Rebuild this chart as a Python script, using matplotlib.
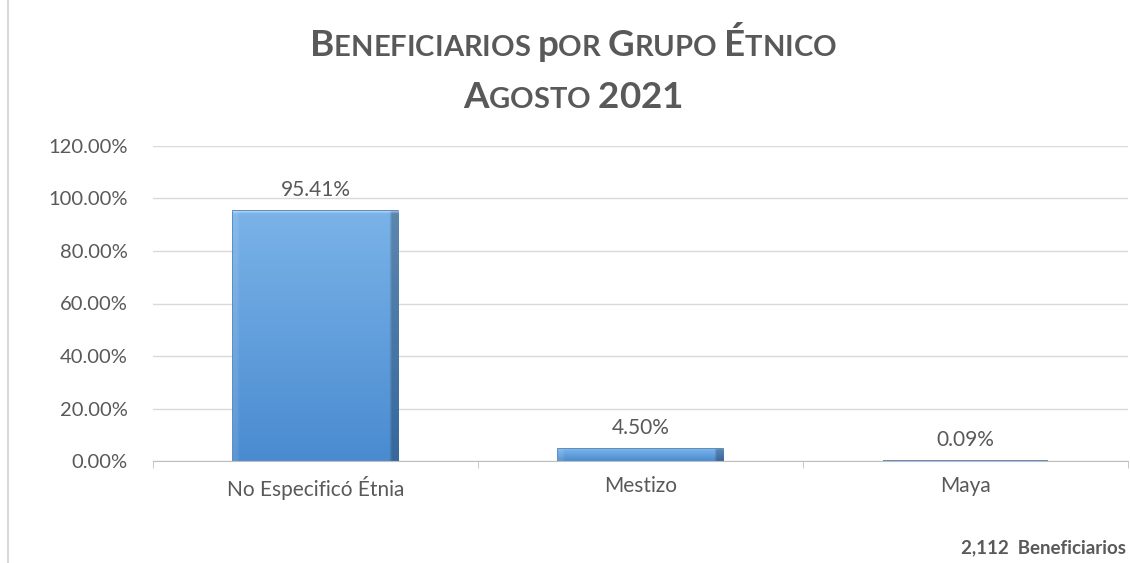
import numpy as np
import matplotlib
matplotlib.use("Agg")
import matplotlib.pyplot as plt
from matplotlib.offsetbox import TextArea, HPacker, AnchoredOffsetbox
from matplotlib.lines import Line2D
from matplotlib.colors import to_rgb

categories = ["No Especificó Étnia", "Mestizo", "Maya"]
values = [95.41, 4.50, 0.09]
yticks = [0, 20, 40, 60, 80, 100, 120]
title_lines = ["Beneficiarios por Grupo Étnico", "Agosto 2021"]
total_note = "2,112  Beneficiarios"

plt.rcParams['font.family'] = ['Lato', 'DejaVu Sans']
grey = "#595959"

W, H = 1130, 563
fig = plt.figure(figsize=(W / 100, H / 100), dpi=100)
ax = fig.add_axes([153 / W, (H - 461) / H, (1128 - 153) / W, (461 - 146) / H])

x = np.arange(len(categories))
bars = ax.bar(x, values, width=0.51, color="#5b9bd5", edgecolor="#3f78b5",
              linewidth=1.2, zorder=2)

# gradient fill to mimic excel bevel
top_c = np.array(to_rgb("#7ab3e8"))
bot_c = np.array(to_rgb("#4a8bd0"))
ny, nx = 100, 60
t = np.linspace(0, 1, ny)[:, None]
img = top_c * (1 - t[..., None]) + bot_c * t[..., None]
img = np.repeat(img, nx, axis=1)
img[:, -3:] *= 0.75
img[:, :2] = img[:, :2] * 0.9 + 0.1
for b in bars:
    x0, w, h = b.get_x(), b.get_width(), b.get_height()
    bi = img.copy()
    hpx = h / 1.2 * 315
    ntop = max(1, int(round(ny * min(6, hpx * 0.3) / max(hpx, 1))))
    bi[:ntop] = bi[:ntop] * 0.6 + 0.4
    im = ax.imshow(bi, extent=[x0, x0 + w, 0, h], aspect="auto", zorder=2.5,
                   interpolation="bilinear")
    im.set_clip_path(b)
    ax.text(b.get_x() + w / 2, h + 4.2, f"{h:.2f}%", ha="center", va="bottom",
            fontsize=15, color=grey)

ax.set_xlim(-0.5, len(categories) - 0.5)
ax.set_ylim(0, 120)
ax.set_yticks(yticks)
ax.set_yticklabels([f"{v:.2f}%" for v in yticks], fontsize=14.5, color=grey)
ax.tick_params(axis="y", length=0, pad=18)
ax.set_xticks(x)
ax.set_xticklabels(categories, fontsize=15, color=grey)
ax.set_xticks(np.arange(len(categories) + 1) - 0.5, minor=True)
ax.tick_params(axis="x", which="major", length=0, pad=11)
ax.tick_params(axis="x", which="minor", length=5, color="#bfbfbf")
ax.grid(axis="y", color="#d9d9d9", linewidth=1, zorder=0)
ax.set_axisbelow(True)
for s in ["top", "right", "left"]:
    ax.spines[s].set_visible(False)
ax.spines["bottom"].set_color("#bfbfbf")

# small caps title
def small_caps(text, big, small):
    parts = []
    for word_i, word in enumerate(text.split(" ")):
        if word_i > 0:
            parts.append(TextArea(" ", textprops=dict(fontsize=small, fontweight="bold", color=grey)))
        for i, ch in enumerate(word):
            if i == 0 or ch.isdigit():
                parts.append(TextArea(ch, textprops=dict(fontsize=big, fontweight="bold", color=grey)))
            else:
                parts.append(TextArea(ch.upper(), textprops=dict(fontsize=small, fontweight="bold", color=grey)))
    return HPacker(children=parts, align="baseline", pad=0, sep=0)

for line, ycen in zip(title_lines, [45, 97]):
    box = small_caps(line, 26.5, 21)
    ab = AnchoredOffsetbox(loc="center", child=box, pad=0, frameon=False,
                           bbox_to_anchor=(573 / W, 1 - ycen / H),
                           bbox_transform=fig.transFigure, borderpad=0)
    fig.add_artist(ab)

fig.text(1126 / W, 1 - 548 / H, total_note, fontsize=13.5, fontweight="bold",
         color=grey, ha="right", va="center")

fig.add_artist(Line2D([8 / W, 8 / W], [0, 1], transform=fig.transFigure,
                      color="#d9d9d9", linewidth=1.5))

fig.savefig("out.png", dpi=100)
